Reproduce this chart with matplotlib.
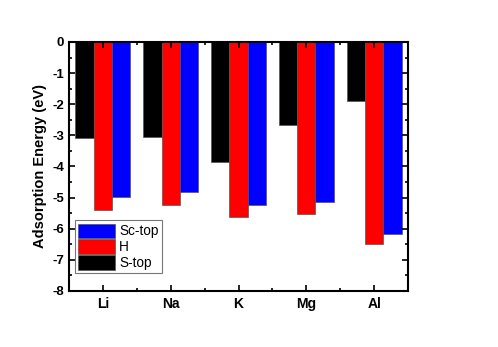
import numpy as np
import matplotlib.pyplot as plt
from matplotlib.ticker import MultipleLocator

plt.rcParams['font.family'] = ['Liberation Sans', 'DejaVu Sans']

# data
metals = ['Li', 'Na', 'K', 'Mg', 'Al']
s_top = [-3.10, -3.05, -3.86, -2.67, -1.89]
h_site = [-5.39, -5.23, -5.61, -5.52, -6.50]
sc_top = [-4.98, -4.83, -5.23, -5.13, -6.18]

fig = plt.figure(figsize=(4.98, 3.47), dpi=100)
ax = fig.add_axes([0.1386, 0.1614, 0.6807, 0.7176])

x = np.arange(1, len(metals) + 1)
w = 0.27
b1 = ax.bar(x - w, s_top, w, color='black', edgecolor='#555555', linewidth=0.5, label='S-top')
b2 = ax.bar(x, h_site, w, color='#ff0000', edgecolor='#555555', linewidth=0.5, label='H')
b3 = ax.bar(x + w, sc_top, w, color='#0000ff', edgecolor='#555555', linewidth=0.5, label='Sc-top')

ax.set_xlim(0.5, 5.5)
ax.set_ylim(-8, 0)
ax.set_xticks(x)
ax.set_xticklabels(metals, fontweight='bold', fontsize=10)
ax.set_xticks(np.arange(1.5, 5.5, 1), minor=True)
ax.yaxis.set_minor_locator(MultipleLocator(0.5))
ax.set_yticks(range(-8, 1))
ax.set_yticklabels([str(v) for v in range(-8, 1)], fontweight='bold', fontsize=9.5)
ax.set_ylabel('Adsorption Energy (eV)', fontweight='bold', fontsize=10.5)

ax.tick_params(which='both', direction='in', top=True, right=True, width=1.2)
ax.tick_params(which='major', length=4)
ax.tick_params(which='minor', length=2.5)
ax.tick_params(axis='x', which='major', pad=4)
for sp in ax.spines.values():
    sp.set_linewidth(1.5)

leg = ax.legend([b3, b2, b1], ['Sc-top', 'H', 'S-top'], loc='lower left',
                bbox_to_anchor=(0.005, 0.055), fontsize=9.8, handlelength=2.7,
                handleheight=1.3, labelspacing=0.05, handletextpad=0.3,
                borderpad=0.25, borderaxespad=0.3, fancybox=False, framealpha=1)
leg.get_frame().set_edgecolor('#777777')
leg.get_frame().set_linewidth(0.8)

fig.savefig('out.png', dpi=100)
